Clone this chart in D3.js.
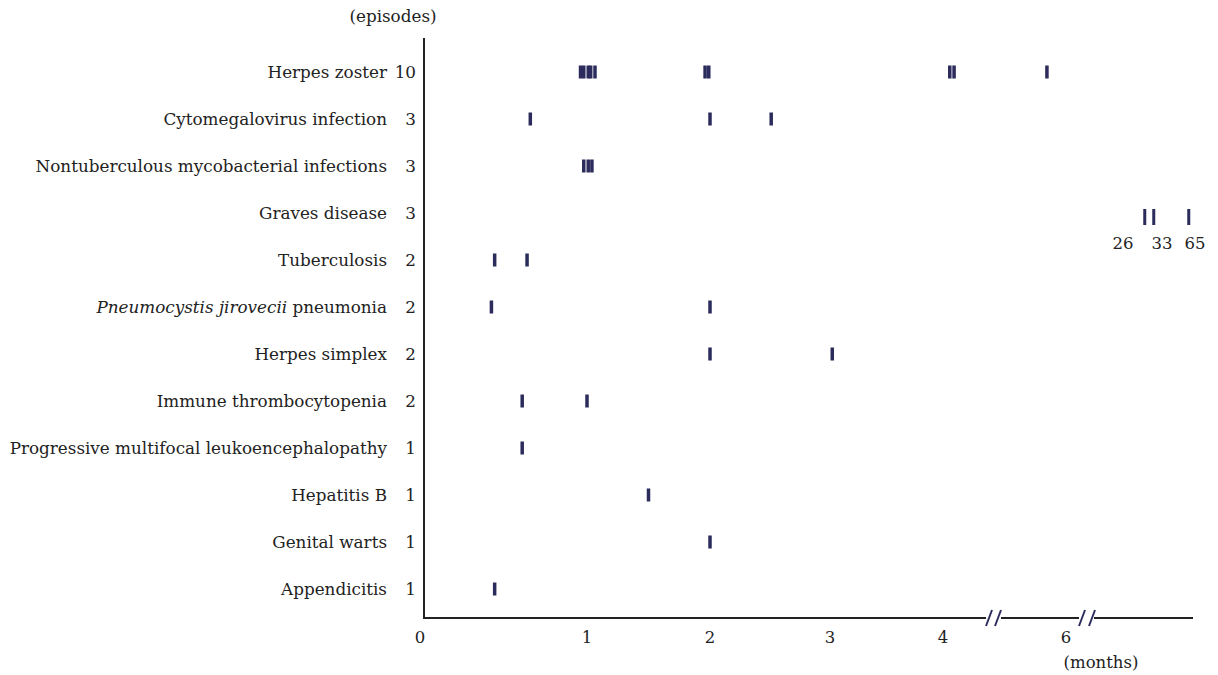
<!DOCTYPE html>
<html>
<head>
<meta charset="utf-8">
<script src="https://cdn.jsdelivr.net/npm/d3@7"></script>
<style>
  body { margin: 0; background: #fff; }
  svg text { font-family: "DejaVu Serif", serif; fill: #222; }
</style>
</head>
<body>
<div id="chart"></div>
<script>
// categories, episode counts and onset times (months) per episode
const categories = [
  'Herpes zoster', 'Cytomegalovirus infection', 'Nontuberculous mycobacterial infections',
  'Graves disease', 'Tuberculosis', 'Pneumocystis jirovecii pneumonia', 'Herpes simplex',
  'Immune thrombocytopenia', 'Progressive multifocal leukoencephalopathy', 'Hepatitis B',
  'Genital warts', 'Appendicitis'
];
const counts = [10, 3, 3, 3, 2, 2, 2, 2, 1, 1, 1, 1];
const onsets = [
  [0.96, 0.98, 1.01, 1.03, 1.065, 1.96, 1.99, 4.11, 4.18, 5.69],
  [0.65, 2.0, 2.51],
  [0.98, 1.01, 1.04],
  [26, 33, 65],
  [0.43, 0.63],
  [0.41, 2.0],
  [2.0, 3.02],
  [0.6, 1.0],
  [0.6],
  [1.5],
  [2.0],
  [0.43]
];
const xTicks = [0, 1, 2, 3, 4, 6];
const lateLabels = [26, 33, 65];

const W = 1218, H = 675;
const fs = 16.5;
const svg = d3.select('#chart').append('svg').attr('width', W).attr('height', H);

// piecewise axis: the reference is not linear and has two breaks
const x = d3.scaleLinear()
  .domain([0, 1, 2, 3, 4, 6, 26, 33, 65])
  .range([425, 587, 710, 830, 943, 1066, 1145, 1154, 1189]);
const y = d3.scalePoint().domain(categories).range([72, 589]);

const axisY = 618;
const markColor = '#2b2c5c';

// y axis line
svg.append('line')
  .attr('x1', 424).attr('x2', 424).attr('y1', 38).attr('y2', axisY + 1)
  .attr('stroke', '#222').attr('stroke-width', 2);

// x axis segments with breaks
const segments = [[423, 986], [1001, 1079], [1094, 1193]];
svg.selectAll('line.seg').data(segments).enter().append('line')
  .attr('class', 'seg')
  .attr('x1', d => d[0]).attr('x2', d => d[1])
  .attr('y1', axisY).attr('y2', axisY)
  .attr('stroke', '#222').attr('stroke-width', 2);

const slashes = [989, 998, 1082, 1092];
svg.selectAll('line.slash').data(slashes).enter().append('line')
  .attr('class', 'slash')
  .attr('x1', d => d - 3).attr('x2', d => d + 3)
  .attr('y1', axisY + 8).attr('y2', axisY - 8)
  .attr('stroke', markColor).attr('stroke-width', 2);

// x tick labels
svg.selectAll('text.xt').data(xTicks).enter().append('text')
  .attr('class', 'xt')
  .attr('x', d => d === 0 ? x(d) - 5 : x(d))
  .attr('y', 643)
  .attr('text-anchor', 'middle')
  .attr('font-size', fs)
  .text(d => d);

svg.append('text').attr('x', 1101).attr('y', 668)
  .attr('text-anchor', 'middle').attr('font-size', fs).text('(months)');
svg.append('text').attr('x', 393).attr('y', 22)
  .attr('text-anchor', 'middle').attr('font-size', 16.8).text('(episodes)');

// category labels
const labels = svg.selectAll('text.cat').data(categories).enter().append('text')
  .attr('class', 'cat')
  .attr('x', 387)
  .attr('y', d => y(d) + 6)
  .attr('text-anchor', 'end')
  .attr('font-size', 16.8);
labels.each(function(d) {
  const t = d3.select(this);
  if (d.startsWith('Pneumocystis')) {
    t.append('tspan').attr('font-style', 'italic').text('Pneumocystis jirovecii');
    t.append('tspan').text(' pneumonia');
  } else {
    t.text(d);
  }
});

svg.selectAll('text.cnt').data(counts).enter().append('text')
  .attr('class', 'cnt')
  .attr('x', 416)
  .attr('y', (d, i) => y(categories[i]) + 6)
  .attr('text-anchor', 'end')
  .attr('font-size', 16.8)
  .text(d => d);

// episode marks
const marks = [];
onsets.forEach((vals, i) => vals.forEach(v => marks.push({ cat: categories[i], v })));
svg.selectAll('rect.mark').data(marks).enter().append('rect')
  .attr('class', 'mark')
  .attr('x', d => x(d.v) - 1.75)
  .attr('width', d => d.v > 6 ? 3 : 3.5)
  .attr('y', d => d.v > 6 ? y(d.cat) - 4 : y(d.cat) - 6.5)
  .attr('height', d => d.v > 6 ? 16 : 13)
  .attr('fill', markColor);

// labels under the late onsets
const lateOffsets = [-22, 8, 6];
svg.selectAll('text.late').data(lateLabels).enter().append('text')
  .attr('class', 'late')
  .attr('x', (d, i) => x(d) + lateOffsets[i])
  .attr('y', y('Graves disease') + 36)
  .attr('text-anchor', 'middle')
  .attr('font-size', fs)
  .text(d => d);
</script>
</body>
</html>
